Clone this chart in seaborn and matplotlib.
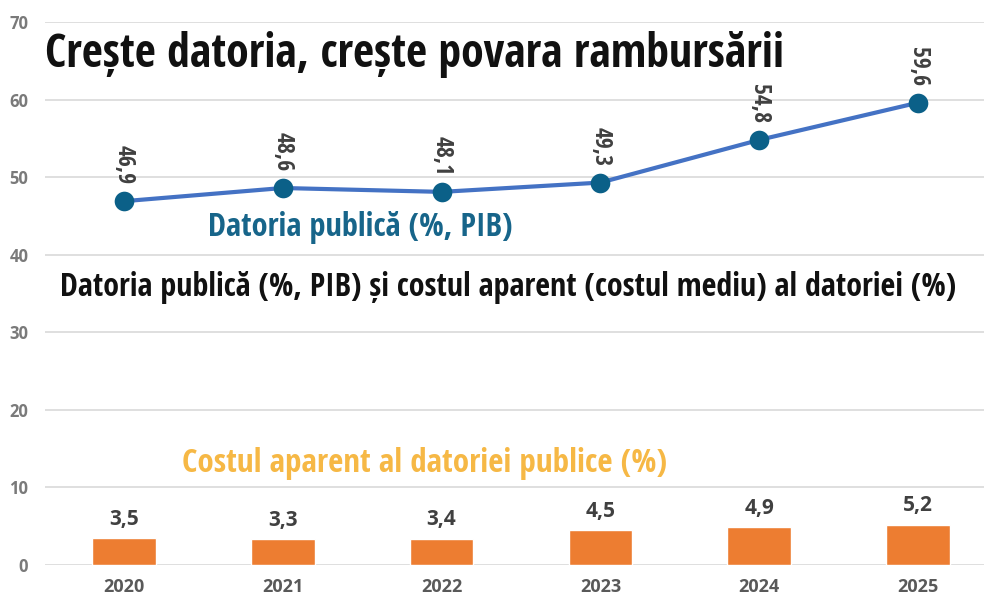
import numpy as np
import pandas as pd
import matplotlib
matplotlib.use("Agg")
import matplotlib.pyplot as plt
from matplotlib import font_manager
import seaborn as sns

years = ["2020", "2021", "2022", "2023", "2024", "2025"]
debt = [46.9, 48.6, 48.1, 49.3, 54.8, 59.6]
cost = [3.5, 3.3, 3.4, 4.5, 4.9, 5.2]
yticks = [0, 10, 20, 30, 40, 50, 60, 70]

title = "Crește datoria, crește povara rambursării"
subtitle = "Datoria publică (%, PIB) și costul aparent (costul mediu) al datoriei (%)"
debt_label = "Datoria publică (%, PIB)"
cost_label = "Costul aparent al datoriei publice (%)"

sns.set_theme(style="white")
names = {f.name for f in font_manager.fontManager.ttflist}
narrow = None
for cand in ["Liberation Sans Narrow", "Open Sans Condensed", "Roboto Condensed", "DejaVu Sans Condensed"]:
    if cand in names:
        narrow = cand
        break
if narrow is None:
    narrow = "Open Sans"
plt.rcParams['font.family'] = [narrow, 'DejaVu Sans']

W, H = 984, 597
fig = plt.figure(figsize=(W / 100, H / 100), dpi=100)
ax = fig.add_axes([45 / W, 1 - 565 / H, (W - 45) / W, (565 - 22) / H])

df_bar = pd.DataFrame({"year": years, "cost": cost})
sns.barplot(data=df_bar, x="year", y="cost", ax=ax, color="#ED7D31", saturation=1,
            width=0.4, zorder=3)

pos = np.arange(len(years))
df_line = pd.DataFrame({"pos": pos, "debt": debt})
sns.lineplot(data=df_line, x="pos", y="debt", ax=ax, color="#4472C4", linewidth=3, zorder=4)
sns.scatterplot(data=df_line, x="pos", y="debt", ax=ax, color="#0B6088", s=200,
                edgecolor="#0B6088", linewidth=0, zorder=5)

ax.set_xlim(-0.497, 5.415)
ax.set_ylim(0, 70)
ax.set_yticks(yticks)
ax.set_yticklabels([str(v) for v in yticks])
ax.set_xticks(pos)
ax.set_xticklabels(years)
ax.set_xlabel("")
ax.set_ylabel("")
ax.grid(axis="y", color="#D9D9D9", linewidth=1.2, zorder=0)
ax.set_axisbelow(True)
for s in ax.spines.values():
    s.set_visible(False)
ax.tick_params(axis="y", length=0, pad=12, labelcolor="#7A7A7A")
ax.tick_params(axis="x", length=0, pad=9, labelcolor="#595959")
for lab in ax.get_yticklabels():
    lab.set_fontweight("bold")
    lab.set_family(["Open Sans", "DejaVu Sans"])
    lab.set_fontsize(12)
for lab in ax.get_xticklabels():
    lab.set_fontweight("bold")
    lab.set_family(["Open Sans", "DejaVu Sans"])
    lab.set_fontsize(13)

for p, v in zip(pos, cost):
    ax.annotate(f"{v:.1f}".replace(".", ","), (p, v), xytext=(0, 6), textcoords="offset points",
                ha="center", va="bottom", fontsize=15, fontweight="bold", color="#404040",
                family=["Open Sans", "DejaVu Sans"])
for p, v in zip(pos, debt):
    ax.annotate(f"{v:.1f}".replace(".", ","), (p, v), xytext=(0, 12), textcoords="offset points",
                ha="center", va="bottom", rotation=-90, fontsize=17, fontweight="bold", color="#404040")

def ftext(x, y, s, target_w, **kw):
    t = fig.text(x / W, 1 - y / H, s, **kw)
    fig.canvas.draw()
    w = t.get_window_extent(fig.canvas.get_renderer()).width
    t.set_fontsize(t.get_fontsize() * target_w / w)
    return t

ftext(45, 55, title, 740, ha="left", va="center", fontsize=30, fontweight="heavy",
      color="#111111")
ftext(508, 287, subtitle, 893, ha="center", va="center", fontsize=22, fontweight="bold",
      color="#111111")
ftext(208, 228, debt_label, 304, ha="left", va="center", fontsize=22, fontweight="bold",
      color="#17658A")
ftext(182, 463, cost_label, 483, ha="left", va="center", fontsize=22, fontweight="bold",
      color="#F6B845")

fig.savefig("out.png", dpi=100)
